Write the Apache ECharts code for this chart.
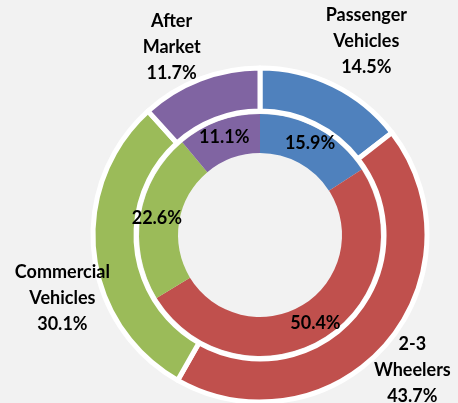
<!DOCTYPE html>
<html>
<head>
<meta charset="utf-8">
<script src="https://cdn.jsdelivr.net/npm/echarts@6/dist/echarts.min.js"></script>
<style>
  html, body { margin: 0; padding: 0; background: #f2f2f2; }
  #chart { width: 458px; height: 403px; }
</style>
</head>
<body>
<div id="chart"></div>
<script>
// segments, clockwise from 12 o'clock
const categories = ['Passenger Vehicles', '2-3 Wheelers', 'Commercial Vehicles', 'After Market'];
const outerLabels = ['Passenger\nVehicles', '2-3\nWheelers', 'Commercial\nVehicles', 'After\nMarket'];
const outerValues = [14.5, 43.7, 30.1, 11.7];
const innerValues = [15.9, 50.4, 22.6, 11.1];
const colors = ['#4f81bd', '#c0504d', '#9bbb59', '#8064a2'];

// nudges for the outer labels (layout only)
const outerLabelOffsets = [[41, -60], [40, 38], [-50, 47], [-35, -49]];

const font = {
  fontFamily: 'Lato',
  fontWeight: 'bold',
  fontSize: 18,
  lineHeight: 26,
  color: '#000'
};

const chart = echarts.init(document.getElementById('chart'));

chart.setOption({
  backgroundColor: '#f2f2f2',
  animation: false,
  color: colors,
  series: [
    {
      // inner ring
      type: 'pie',
      center: [260, 235],
      radius: [82, 121],
      startAngle: 90,
      silent: true,
      label: Object.assign({ position: 'inside', formatter: p => p.value.toFixed(1) + '%' }, font),
      labelLine: { show: false },
      data: categories.map((c, i) => ({ name: c, value: innerValues[i] }))
    },
    {
      // outer ring
      type: 'pie',
      center: [260, 235],
      radius: [124, 167],
      startAngle: 90,
      silent: true,
      itemStyle: { borderColor: '#fff', borderWidth: 5 },
      label: Object.assign({
        position: 'inside',
        formatter: p => outerLabels[p.dataIndex] + '\n' + p.value.toFixed(1) + '%'
      }, font),
      labelLine: { show: false },
      data: categories.map((c, i) => ({
        name: c,
        value: outerValues[i],
        label: { offset: outerLabelOffsets[i] }
      }))
    }
  ]
});
</script>
</body>
</html>
